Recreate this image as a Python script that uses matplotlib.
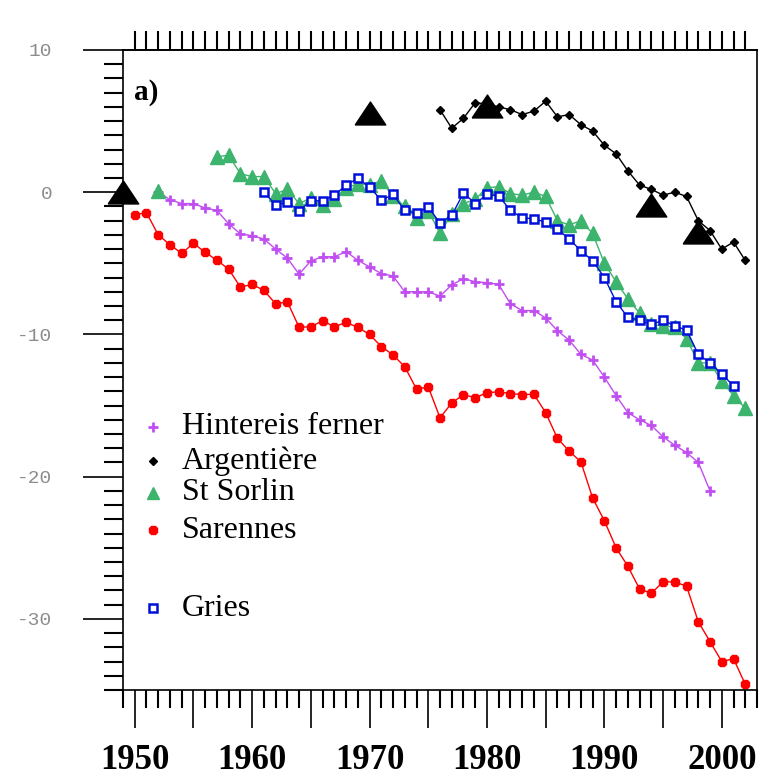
#!/usr/bin/env python3
import matplotlib
matplotlib.use('Agg')
import matplotlib.pyplot as plt
from matplotlib.ticker import MultipleLocator, FixedLocator, FuncFormatter
import numpy as np

# cumulative mass balance (m w.e.)
sarennes_years = np.arange(1950, 2003)
sarennes = [-1.58, -1.44, -3.0, -3.69, -4.3, -3.59, -4.23, -4.78, -5.41, -6.67,
            -6.48, -6.9, -7.85, -7.71, -9.5, -9.46, -9.03, -9.46, -9.15, -9.5,
            -10.0, -10.85, -11.44, -12.27, -13.85, -13.69, -15.86, -14.82, -14.23, -14.45,
            -14.09, -14.04, -14.16, -14.23, -14.21, -15.5, -17.3, -18.2, -18.96, -21.5,
            -23.1, -25.0, -26.3, -27.9, -28.2, -27.4, -27.4, -27.7, -30.2, -31.6,
            -33.0, -32.8, -34.6]

hef_years = np.arange(1952, 2000)
hef = [0.0, -0.52, -0.8, -0.8, -1.11, -1.28, -2.22, -2.93,
       -3.05, -3.29, -4.0, -4.63, -5.77, -4.82, -4.54, -4.54, -4.18, -4.78,
       -5.25, -5.72, -5.89, -7.0, -7.0, -7.0, -7.3, -6.52, -6.07, -6.3,
       -6.36, -6.48, -7.85, -8.32, -8.32, -8.84, -9.74, -10.4, -11.4, -11.8,
       -13.0, -14.3, -15.5, -16.0, -16.4, -17.2, -17.8, -18.3, -19.0, -21.0]

gries_years = np.arange(1961, 2002)
gries = [0.0, -0.9, -0.7, -1.3, -0.6, -0.6, -0.21, 0.5, 0.97,
         0.38, -0.57, -0.16, -1.28, -1.47, -1.04, -2.17, -1.63, -0.05, -0.8,
         -0.16, -0.26, -1.28, -1.8, -1.87, -2.1, -2.6, -3.29, -4.11, -4.82,
         -6.0, -7.7, -8.8, -9.0, -9.3, -9.0, -9.4, -9.7, -11.4, -12.0,
         -12.8, -13.6]

sorlin_years = np.arange(1957, 2003)
sorlin = [2.5, 2.6, 1.3, 1.1, 1.1, -0.1, 0.2, -0.8, -0.4, -0.9,
          -0.5, 0.3, 0.6, 0.5, 0.8, -0.3, -1.0, -1.8, -1.3, -2.9,
          -1.5, -0.8, -0.5, 0.3, 0.4, -0.1, -0.2, 0.0, -0.3, -2.0,
          -2.3, -2.0, -2.9, -5.0, -6.3, -7.5, -8.5, -9.3, -9.4, -9.5,
          -10.3, -12.0, -12.0, -13.3, -14.3, -15.2]
sorlin_early_year = [1952]
sorlin_early = [0.1]

arg_years = np.arange(1976, 2003)
arg = [5.8, 4.5, 5.2, 6.3, 6.2, 6.0, 5.8, 5.46, 5.7, 6.4,
       5.3, 5.46, 4.75, 4.3, 3.3, 2.7, 1.5, 0.5, 0.2, -0.2,
       0.0, -0.3, -2.0, -2.7, -4.0, -3.5, -4.8]

geo_years = [1949, 1970, 1980, 1994, 1998]
geo = [0.0, 5.6, 6.05, -0.9, -2.8]

legend_labels = ['Hintereis ferner', 'Argentière', 'St Sorlin', 'Sarennes', 'Gries']

purple = '#c04ef0'
green = '#3cb46e'
blue = '#0010d8'
red = '#ff0000'

serif = 'Liberation Serif'

# flat black triangle for the geodetic points
flat_tri = [(-1, -0.75), (1, -0.75), (0, 0.75), (-1, -0.75)]

fig = plt.figure(figsize=(7.75, 7.76), dpi=100)
ax = fig.add_axes([123 / 775, 1 - 690 / 776, (757 - 123) / 775, 640 / 776])

ax.plot(hef_years, hef, color=purple, lw=1.0, marker='+', ms=7, mew=2.0)
ax.plot(arg_years, arg, color='black', lw=1.0, marker='D', ms=4.5)
ax.plot(sorlin_years, sorlin, color=green, lw=1.0, marker='^', ms=9.5, mec=green)
ax.plot(sorlin_early_year, sorlin_early, color=green, lw=0, marker='^', ms=9.5)
ax.plot(sarennes_years, sarennes, color=red, lw=1.0, marker='8', ms=7, mec=red)
ax.plot(gries_years, gries, color=blue, lw=1.0, marker='s', ms=5.5, mfc='white',
        mec=blue, mew=1.8)
ax.plot(geo_years, geo, lw=0, marker=flat_tri, ms=22, color='black', clip_on=False,
        zorder=5)

ax.set_xlim(1949, 2003)
ax.set_ylim(-35, 10)

# bottom axis: long ticks every 5 years, labels every 10 years
ax.xaxis.set_major_locator(MultipleLocator(5))
ax.xaxis.set_minor_locator(MultipleLocator(1))
ax.xaxis.set_major_formatter(FuncFormatter(lambda v, p: '%d' % v if int(v) % 10 == 0 else ''))
ax.tick_params(axis='x', which='major', direction='out', length=27, width=1.2,
               pad=12, labelsize=25)
ax.tick_params(axis='x', which='minor', direction='out', length=13, width=1.5)
for lab in ax.get_xticklabels():
    lab.set_fontfamily(serif)
    lab.set_fontweight('bold')

# left axis
ax.yaxis.set_major_locator(FixedLocator([10, 0, -10, -20, -30]))
ax.yaxis.set_minor_locator(MultipleLocator(1))
ax.set_yticklabels(['10', '0', '-10', '-20', '-30'], family='Liberation Mono',
                   color='#8c8c8c', fontsize=14)
ax.tick_params(axis='y', which='major', direction='out', length=29, width=1.2, pad=22)
ax.tick_params(axis='y', which='minor', direction='out', length=14, width=1.5)

# top ticks every year
top = ax.secondary_xaxis('top')
top.set_xticks(np.arange(1950, 2003))
top.tick_params(direction='out', length=14, width=1.5, labeltop=False)
top.spines['top'].set_linewidth(1.2)

for s in ax.spines.values():
    s.set_linewidth(1.2)

ax.text(0.018, 0.955, 'a)', transform=ax.transAxes, fontsize=21, fontweight='bold',
        family=serif, va='top', ha='left')

# legend rows
rows = [(0.411, dict(color=purple, marker='+', ms=7, mew=2.0)),
        (0.358, dict(color='black', marker='D', ms=4.5)),
        (0.308, dict(color=green, marker='^', ms=9)),
        (0.250, dict(color=red, marker='8', ms=7)),
        (0.128, dict(color=blue, marker='s', ms=5.5, mfc='white', mew=1.8))]
for (yy, style), label in zip(rows, legend_labels):
    ax.plot([0.047], [yy], transform=ax.transAxes, lw=0, **style)
    ax.text(0.093, yy, label, transform=ax.transAxes, fontsize=23, family=serif,
            va='center', ha='left')

plt.savefig('out.png', dpi=100)
